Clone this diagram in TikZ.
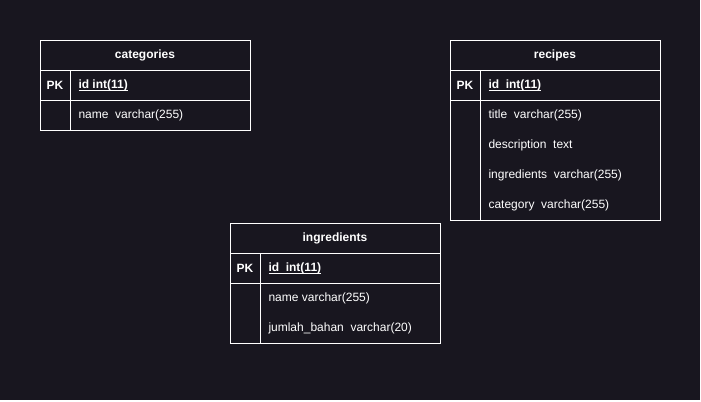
\documentclass[tikz,border=0pt]{standalone}
\usepackage{fontspec}
\setmainfont{Liberation Sans}
\usetikzlibrary{positioning}
\definecolor{canvas}{RGB}{24,22,31}
\newcommand{\keyline}[1]{\setbox0\hbox{\bfseries #1}\rlap{\vrule width\wd0 height -1pt depth 1.6pt}\box0}

\begin{document}
\begin{tikzpicture}[x=0.75pt,y=-0.75pt,line width=0.75pt,
	every node/.style={text=white,font=\fontsize{9}{11}\selectfont,inner sep=0pt,yshift=-0.6pt},
	tabletitle/.style={font=\fontsize{9}{11}\selectfont\bfseries},
	pkmark/.style={font=\fontsize{9}{11}\selectfont\bfseries},
	field/.style={anchor=west}]
	%Canvas
	\useasboundingbox (0,0) rectangle (701,401);
	\fill [white] (0,0) rectangle (701,401);
	\fill [canvas] (0,0) rectangle (700,400);

	%Table categories
	\draw [white] (40,40) rectangle (250,130);
	\draw [white] (40,70) -- (250,70);
	\draw [white] (40,100) -- (250,100);
	\draw [white] (70,70) -- (70,130);
	\node [tabletitle] (catTitle) at (145,55) {categories};
	\node [pkmark] (catPK) at (55,85) {PK};
	\node [field] (catId) at (78,85) {\keyline{id int(11)}};
	\node [field] (catName) at (78,115) {name\ \ varchar(255)};

	%Table recipes
	\draw [white] (450,40) rectangle (660,220);
	\draw [white] (450,70) -- (660,70);
	\draw [white] (450,100) -- (660,100);
	\draw [white] (480,70) -- (480,220);
	\node [tabletitle] (recTitle) at (555,55) {recipes};
	\node [pkmark] (recPK) at (465,85) {PK};
	\node [field] (recId) at (488,85) {\keyline{id\ \ int(11)}};
	\node [field] (recTitleCol) at (488,115) {title\ \ varchar(255)};
	\node [field] (recDesc) at (488,145) {description\ \ text};
	\node [field] (recIngr) at (488,175) {ingredients\ \ varchar(255)};
	\node [field] (recCat) at (488,205) {category\ \ varchar(255)};

	%Table ingredients
	\draw [white] (230,223) rectangle (440,343);
	\draw [white] (230,253) -- (440,253);
	\draw [white] (230,283) -- (440,283);
	\draw [white] (260,253) -- (260,343);
	\node [tabletitle] (ingTitle) at (335,238) {ingredients};
	\node [pkmark] (ingPK) at (245,268) {PK};
	\node [field] (ingId) at (268,268) {\keyline{id\ \ int(11)}};
	\node [field] (ingName) at (268,298) {name varchar(255)};
	\node [field] (ingJumlah) at (268,328) {jumlah\_bahan\ \ varchar(20)};
\end{tikzpicture}
\end{document}
